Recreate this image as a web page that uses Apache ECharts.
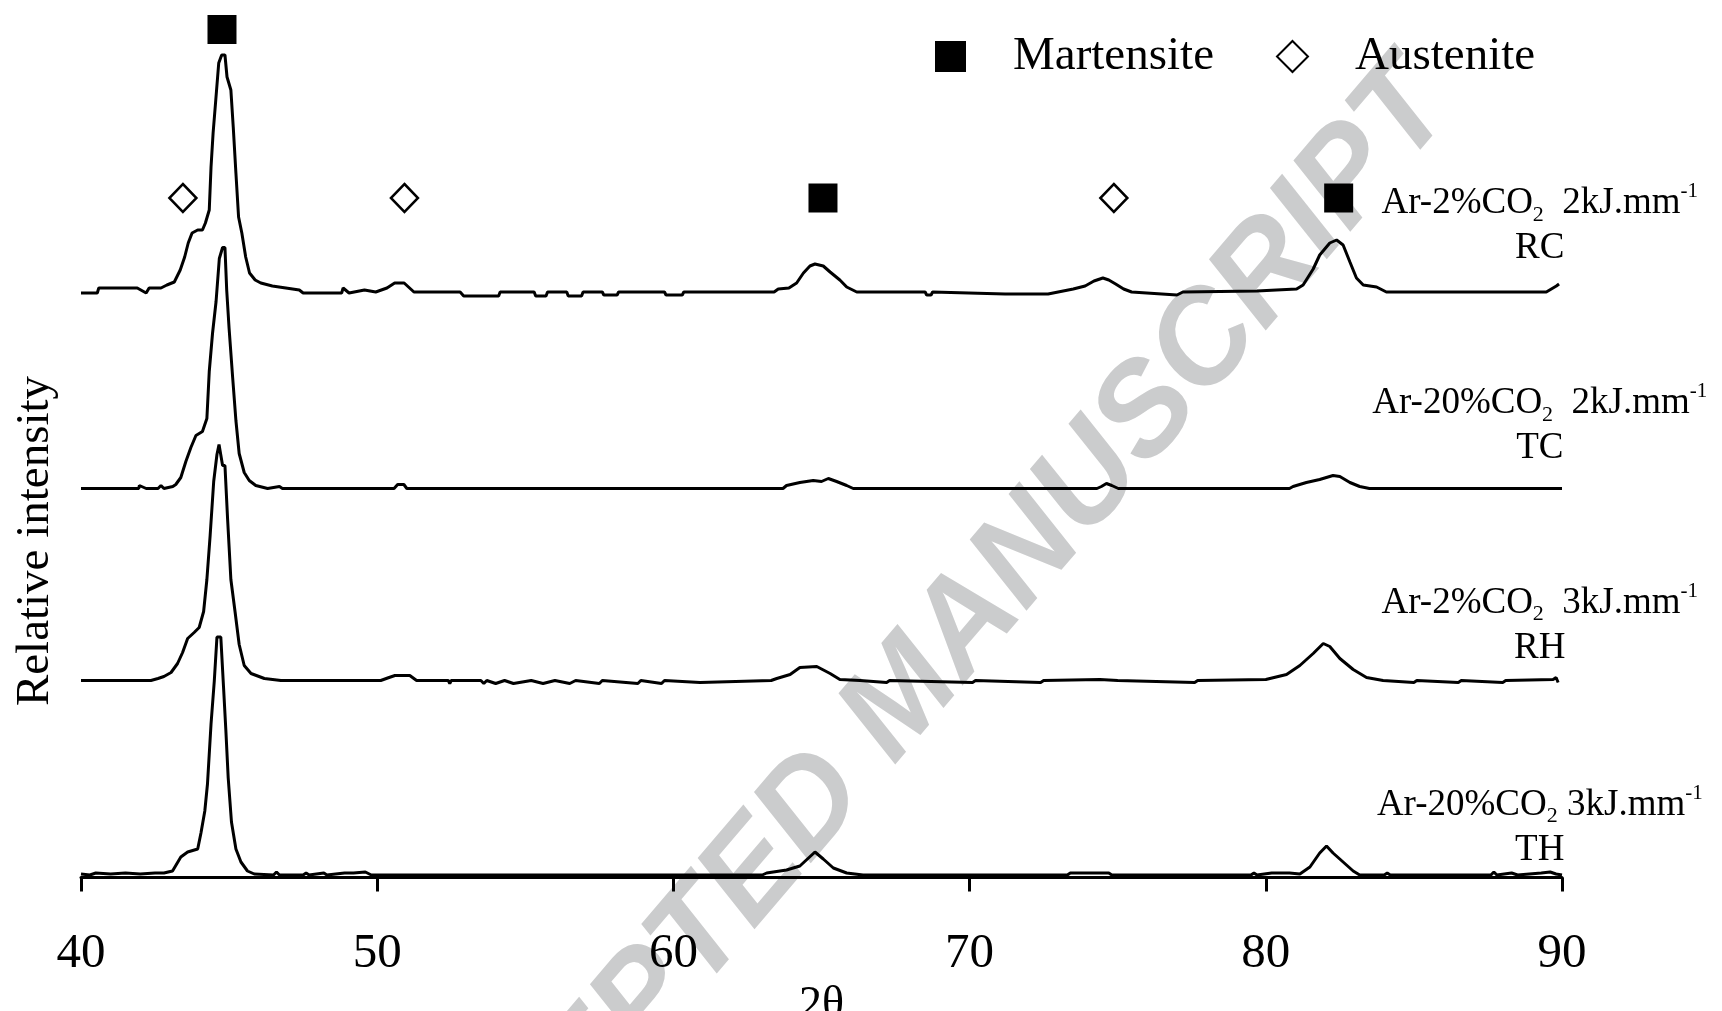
<!DOCTYPE html>
<html>
<head>
<meta charset="utf-8">
<title>XRD patterns</title>
<script src="https://cdn.jsdelivr.net/npm/echarts@6.0.0/dist/echarts.min.js"></script>
<style>
    html, body { margin: 0; padding: 0; background: #fff; }
    #main { width: 1722px; height: 1011px; }
</style>
</head>
<body>
<div id="main"></div>
<script type="text/javascript">
    // x axis (2 theta) ticks
    var thetaTicks = [40, 50, 60, 70, 80, 90];

    // samples, top to bottom
    var sampleCodes = ['RC', 'TC', 'RH', 'TH'];
    var sampleGas = ['Ar-2%CO', 'Ar-20%CO', 'Ar-2%CO', 'Ar-20%CO'];
    var heatInput = ['2', '2', '3', '3'];

    // phase peak positions (2 theta)
    var martensitePeaks = [44.76, 65.05, 82.46];
    var austenitePeaks = [43.44, 50.92, 74.87];

    // patterns: [2theta, intensity above own baseline]
    var patternRC = [[40.0,-1],[40.55,-1],[40.6,4],[41.8,4],[41.82,6],[41.9,4],[42.2,-1],[42.3,4],[42.7,4],[42.9,7],[43.15,10],
        [43.35,22],[43.5,35],[43.62,49],[43.75,59],[43.94,62],[44.1,62],[44.2,69],[44.33,82],[44.39,125],[44.46,159],
        [44.55,192],[44.65,229],[44.75,237],[44.86,237],[44.93,215],[45.06,202],[45.14,165],[45.23,119],[45.32,75],
        [45.43,59],[45.56,35],[45.69,19],[45.88,12],[46.07,9],[46.46,6],[47.37,2],[47.5,-1],[48.8,-1],[48.85,4],[49.05,-1],
        [49.57,2],[49.95,0],[50.33,4],[50.59,9],[50.91,9],[51.24,0],[52.8,0],[52.92,-4],[54.1,-4],[54.15,0],[55.3,0],
        [55.35,-4],[55.7,-4],[55.75,0],[56.4,0],[56.45,-4],[56.9,-4],[56.95,0],[57.6,0],[57.65,-3],[58.1,-3],[58.15,0],
        [59.7,0],[59.75,-3],[60.3,-3],[60.35,0],[63.4,0],[63.54,3],[63.9,4],[64.16,9],[64.39,19],[64.61,26],[64.78,28],
        [65.06,26],[65.29,20],[65.62,12],[65.85,5],[66.19,0],[68.5,0],[68.55,-3],[68.7,-3],[68.75,0],[71.2,-2],[72.65,-2],
        [73.5,3],[73.9,6],[74.2,11],[74.5,14],[74.7,12],[74.93,8],[75.2,3],[75.47,0],[77.0,-3],[77.2,0],[79.7,1],[80.36,2],
        [81.04,3],[81.26,7],[81.6,23],[81.82,37],[82.16,49],[82.39,52],[82.61,47],[82.84,30],[83.06,14],[83.29,7],
        [83.74,5],[84.07,0],[89.47,0],[89.81,6],[89.9,8]];

    var patternTC = [[40.0,0],[41.95,0],[41.97,3],[42.2,0],[42.6,0],[42.7,3],[42.8,0],[43.1,2],[43.2,4],[43.37,11],
        [43.54,27],[43.71,41],[43.88,53],[44.1,57],[44.25,70],[44.33,117],[44.44,155],[44.56,187],[44.67,230],[44.78,241],
        [44.86,241],[44.92,198],[45.0,160],[45.12,111],[45.23,68],[45.34,35],[45.51,16],[45.68,8],[45.9,3],[46.3,0],
        [46.7,2],[46.8,0],[50.57,0],[50.69,4],[50.9,4],[51.0,0],[63.7,0],[63.82,3],[64.27,6],[64.72,8],[65.0,7],[65.23,10],
        [65.51,7],[65.85,3],[66.07,0],[74.3,0],[74.45,2],[74.62,5],[74.8,3],[75.02,0],[80.8,0],[80.92,2],[81.37,6],
        [81.82,9],[82.27,13],[82.5,12],[82.84,6],[83.17,2],[83.5,0],[90.0,0]];

    var patternRH = [[40.0,0],[40.8,0],[40.84,2],[40.9,0],[42.36,0],[42.6,2],[42.8,4],[43.04,8],[43.26,17],[43.43,28],
        [43.6,42],[43.82,48],[43.99,53],[44.14,69],[44.25,101],[44.36,145],[44.48,199],[44.59,226],[44.66,236],[44.72,237],
        [44.78,215],[44.86,215],[44.95,161],[45.06,101],[45.2,69],[45.34,36],[45.51,15],[45.74,7],[46.19,2],[46.75,0],
        [49.3,0],[49.34,2],[49.4,0],[50.12,0],[50.4,3],[50.6,5],[51.1,5],[51.33,0],[52.4,0],[52.45,-3],[52.5,0],[53.5,0],
        [53.6,-3],[53.7,0],[54.0,-3],[54.3,0],[54.6,-3],[55.2,0],[55.6,-3],[56.0,0],[56.5,-3],[56.7,0],[57.5,-3],[57.6,0],
        [58.8,-3],[58.9,0],[59.6,-3],[59.7,0],[60.9,-2],[63.3,0],[63.49,2],[63.94,6],[64.27,13],[64.84,14],[65.29,7],
        [65.62,1],[66.3,0],[67.2,-2],[67.3,0],[70.1,-2],[70.2,0],[72.4,-2],[72.5,0],[74.4,1],[75.0,0],[77.6,-2],[77.7,0],
        [80.0,1],[80.7,6],[81.15,15],[81.6,27],[81.94,37],
        [82.16,34],[82.5,22],[82.95,11],[83.4,3],[83.96,0],[85.0,-2],[85.1,0],[86.5,-2],[86.6,0],[88.0,-2],[88.1,0],
        [89.7,1],[89.8,3],[89.87,-2]];

    var patternTH = [[40.0,2],[40.3,1],[40.5,3],[41.0,2],[41.5,3],[42.0,2],[42.5,3],[42.8,3],[43.09,5],[43.37,19],
        [43.6,24],[43.94,27],[44.05,43],[44.18,65],[44.27,92],[44.39,152],[44.5,195],[44.59,239],[44.72,239],[44.81,190],
        [44.89,146],[44.97,98],[45.08,54],[45.23,27],[45.4,14],[45.62,5],[45.85,2],[46.5,1],[46.6,4],[46.7,1],[47.5,1],
        [47.6,3],[47.7,1],[48.2,3],[48.3,1],[48.9,3],[49.2,3],[49.6,4],[49.8,1],[63.0,1],[63.15,3],[63.82,6],[64.27,10],
        [64.78,24],[65.06,17],[65.4,8],[65.85,3],[66.4,1],[73.3,1],[73.4,3],[74.7,3],[74.8,1],[79.5,1],[79.6,3],[79.7,1],
        [80.2,3],[80.8,3],[81.15,2],[81.49,9],[81.82,23],[82.05,30],[82.27,23],[82.61,14],[82.95,5],[83.17,1],[84.0,1],
        [84.1,3],[84.2,1],[87.6,1],[87.7,4],[87.8,1],[88.3,3],[88.5,1],[89.3,3],[89.6,4],[89.8,2],[90.0,1]];

    var patterns = [patternRC, patternTC, patternRH, patternTH];

    // layout of the stack (hidden y axis, 0..850)
    var stackOffset = [585.5, 389, 197, 1.5];
    var labelY = [651.5, 451.5, 252, 50];
    var labelX = 89.25;
    var markerRowY = 679.5;
    var topMarkerY = 848;

    var serif = '"Liberation Serif", "Times New Roman", serif';

    var series = [];
    for (var i = 0; i < patterns.length; ++i) {
        var off = stackOffset[i];
        series.push({
            name: sampleCodes[i],
            type: 'line',
            data: patterns[i].map(function (p) { return [p[0], p[1] + off]; }),
            showSymbol: false,
            symbol: 'none',
            clip: false,
            lineStyle: { color: '#000', width: 3 },
            z: 3
        });
    }

    // sample labels
    var labelData = [];
    for (var j = 0; j < sampleCodes.length; ++j) {
        var gap = (j == 3) ? ' ' : '  ';
        labelData.push({
            value: [labelX, labelY[j]],
            label: {
                formatter: '{t|' + sampleGas[j] + '}{s|2}{t|' + gap + heatInput[j] + 'kJ.mm}{p|-1}\n{t|' + sampleCodes[j] + '}'
            }
        });
    }
    series.push({
        name: 'labels',
        type: 'scatter',
        symbolSize: 0,
        clip: false,
        silent: true,
        itemStyle: { opacity: 1 },
        data: labelData,
        label: {
            show: true,
            position: 'inside',
            align: 'center',
            verticalAlign: 'middle',
            color: '#000',
            opacity: 1,
            rich: {
                t: { fontFamily: serif, fontSize: 37, lineHeight: 45, color: '#000', align: 'center' },
                s: { fontFamily: serif, fontSize: 22, lineHeight: 19, verticalAlign: 'bottom', color: '#000', align: 'center' },
                p: { fontFamily: serif, fontSize: 21, lineHeight: 33, verticalAlign: 'top', color: '#000', align: 'center' }
            }
        }
    });

    series.push({
        name: 'Martensite',
        type: 'scatter',
        symbol: 'rect',
        symbolSize: 29,
        clip: false,
        itemStyle: { color: '#000', opacity: 1 },
        data: martensitePeaks.map(function (x, k) { return [x, k == 0 ? topMarkerY : markerRowY]; }),
        z: 4
    });
    series.push({
        name: 'Austenite',
        type: 'scatter',
        symbol: 'diamond',
        symbolSize: [27, 28],
        clip: false,
        itemStyle: { color: '#fff', borderColor: '#000', borderWidth: 2.5, opacity: 1 },
        data: austenitePeaks.map(function (x) { return [x, markerRowY]; }),
        z: 4
    });

    var myChart = echarts.init(document.getElementById('main'));
    myChart.setOption({
        animation: false,
        backgroundColor: '#fff',
        grid: { left: 81, right: 160, top: 27.5, bottom: 133.5, containLabel: false, outerBoundsMode: 'none' },
        legend: {
            data: ['Martensite', 'Austenite'],
            left: 930,
            top: 28,
            itemWidth: 31,
            itemHeight: 31,
            itemGap: 62,
            selectedMode: false,
            textStyle: { fontFamily: serif, fontSize: 47, color: '#000', padding: [6, 0, 0, 42] }
        },
        xAxis: {
            type: 'value',
            min: thetaTicks[0],
            max: thetaTicks[thetaTicks.length - 1],
            interval: thetaTicks[1] - thetaTicks[0],
            name: '2θ',
            nameLocation: 'middle',
            nameGap: 89,
            nameTextStyle: { fontFamily: serif, fontSize: 46, color: '#000' },
            axisLine: { show: true, onZero: false, lineStyle: { color: '#000', width: 3 } },
            axisTick: { show: true, inside: false, length: 14, lineStyle: { color: '#000', width: 3 } },
            axisLabel: { fontFamily: serif, fontSize: 49, color: '#000', margin: 52 },
            splitLine: { show: false }
        },
        yAxis: {
            type: 'value',
            min: 0,
            max: 850,
            show: false
        },
        graphic: [{
            type: 'text',
            z: -1,
            x: 904,
            y: 699,
            rotation: 49.5 * Math.PI / 180,
            silent: true,
            style: {
                text: 'ACCEPTED MANUSCRIPT',
                font: 'italic bold 130px "Liberation Sans", Arial, sans-serif',
                fill: '#cbcccd',
                align: 'center',
                verticalAlign: 'middle'
            }
        }, {
            type: 'text',
            x: 36,
            y: 541,
            rotation: Math.PI / 2,
            style: {
                text: 'Relative intensity',
                font: '47px "Liberation Serif", "Times New Roman", serif',
                fill: '#000',
                align: 'center',
                verticalAlign: 'middle'
            }
        }],
        series: series
    });
</script>
</body>
</html>
